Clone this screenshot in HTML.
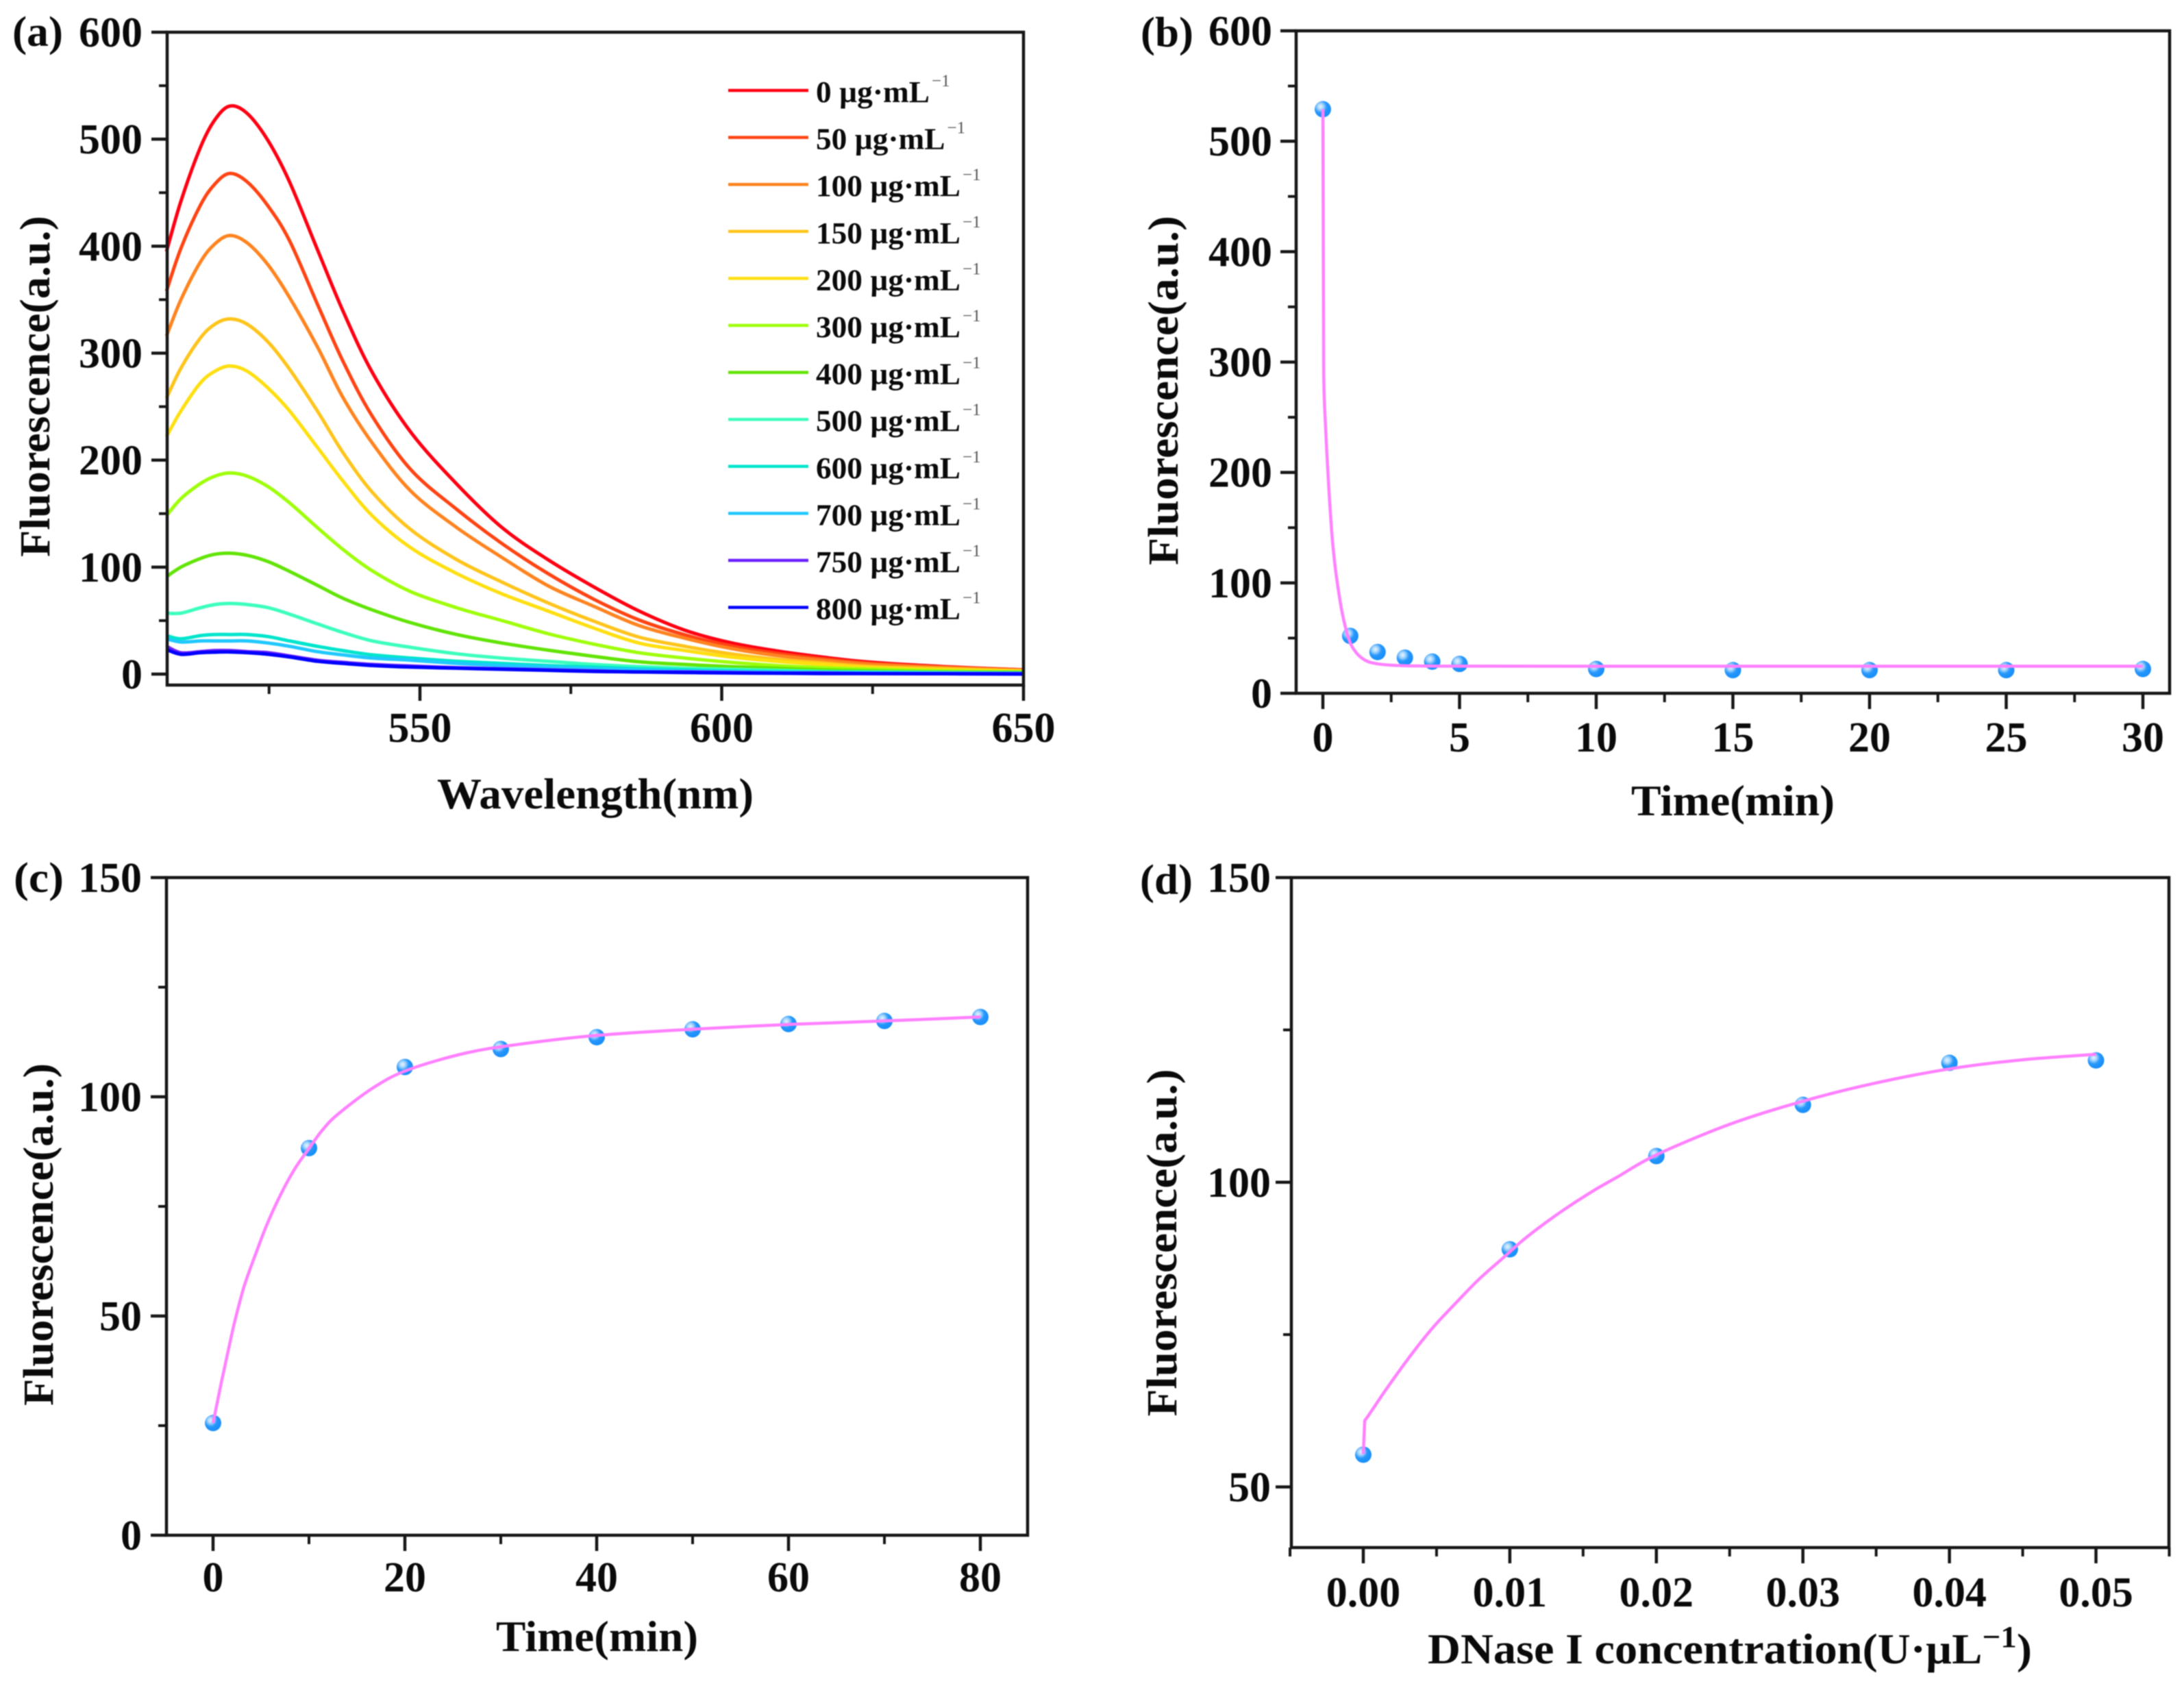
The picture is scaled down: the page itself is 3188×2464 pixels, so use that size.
<!DOCTYPE html>
<html lang="en">
<head>
<meta charset="utf-8">
<title>Fluorescence response panels</title>
<style>
html,body{margin:0;padding:0;background:#fff;width:3188px;height:2464px;overflow:hidden}
#fig{display:block;filter:blur(0.7px)}
text{font-family:"Liberation Serif","DejaVu Serif",serif;font-weight:700;fill:#0a0a0a}
</style>
</head>
<body>
<svg id="fig" xmlns="http://www.w3.org/2000/svg" width="3188" height="2464" viewBox="0 0 3188 2464">
<defs>
<radialGradient id="ball" cx="0.36" cy="0.34" r="0.62">
<stop offset="0" stop-color="#e6f4ff"/>
<stop offset="0.28" stop-color="#a8d6ff"/>
<stop offset="0.62" stop-color="#2697fb"/>
<stop offset="1" stop-color="#1a8ffb"/>
</radialGradient>
</defs>
<rect x="0" y="0" width="3188" height="2464" fill="#fff"/>

<text x="18" y="67" font-size="62" textLength="74" lengthAdjust="spacingAndGlyphs">(a)</text>
<text x="1665" y="68" font-size="62" textLength="77" lengthAdjust="spacingAndGlyphs">(b)</text>
<text x="20" y="1302" font-size="62" textLength="73" lengthAdjust="spacingAndGlyphs">(c)</text>
<text x="1664" y="1305" font-size="62" textLength="77" lengthAdjust="spacingAndGlyphs">(d)</text>

<text transform="translate(72,564) rotate(-90)" text-anchor="middle" font-size="62" textLength="498" lengthAdjust="spacingAndGlyphs">Fluorescence(a.u.)</text>
<text transform="translate(1719,570) rotate(-90)" text-anchor="middle" font-size="62" textLength="510" lengthAdjust="spacingAndGlyphs">Fluorescence(a.u.)</text>
<text transform="translate(77,1802) rotate(-90)" text-anchor="middle" font-size="62" textLength="500" lengthAdjust="spacingAndGlyphs">Fluorescence(a.u.)</text>
<text transform="translate(1717,1814) rotate(-90)" text-anchor="middle" font-size="62" textLength="507" lengthAdjust="spacingAndGlyphs">Fluorescence(a.u.)</text>

<text x="638" y="1180" font-size="64" textLength="462" lengthAdjust="spacingAndGlyphs">Wavelength(nm)</text>
<text x="2381" y="1190" font-size="64" textLength="297" lengthAdjust="spacingAndGlyphs">Time(min)</text>
<text x="724" y="2410" font-size="64" textLength="295" lengthAdjust="spacingAndGlyphs">Time(min)</text>
<text x="2084" y="2428" font-size="62" textLength="882" lengthAdjust="spacingAndGlyphs">DNase I concentration(U·µL<tspan dy="-24" font-size="44">−1</tspan><tspan dy="24">)</tspan></text>

<g id="plots"></g>
</svg>

<script>
// ---------- Panel (a) data ----------
const wavelengths = [508,510.4,513.6,516,518.5,521.4,524.9,528.4,533,537.2,542.1,548.5,556.1,563.6,571.2,578.8,586.3,593.9,601.5,609,616.6,625,637,650];
const conc0   = [395,442,492,518,531,524,498,460,397,340,282,226,177.6,137,107,81.5,59,41,29.3,21.8,16,11,7,4];
const conc50  = [358,398,438,458,468,460,437,405,346,293,241,191,154,122,94,70,50.6,36.7,26.5,19.5,14.5,10,6.5,4];
const conc100 = [316,350,385,402,410,403,382,352,306,259,216,171,137,109,82.6,63.4,45.4,33.5,24,17.5,13,9,6,3.5];
const conc150 = [258,286,314,327,332,327,310,285,246,207.5,170,135,107,86,66.6,49.5,34.6,26,19,14,10.5,7,5,3];
const conc200 = [222,246,272,283,288,283,267,246,212,180.8,148,118,94,75,59,43,29,22,16,12,9,6,4,2.5];
const conc300 = [148,164,178,185,188,185,175,160,137,116.7,96.5,77,62,50,37.8,28,20,15,11,8,6,4.5,3,2];
const conc400 = [91,100,108,112,113,111,105,96,83,71,60,48,37,29,22.4,16.6,11.5,9,7,5.5,4,3,2,1.5];
const conc500 = [57,57,62,65,66,65,62,56,47,39,31,25,19,15,12,9,7,5.5,4.5,3.5,2.5,2,1.5,1];
const conc600 = [36,33,36,37,37,37,35,31,26,22,18,15,12,10,8,6.5,5,4,3,2.5,2,1.5,1,1];
const conc700 = [33,30,31,31,31,31,29,26,21,18,15,13,10,8,6.5,5,4,3,2.5,2,1.5,1,1,0.5];
const conc750 = [26,20,21,22,22,21,20,17,13,11,9,7.5,6,5,4,3,2,2,1.5,1,1,0.5,0.5,0.5];
const conc800 = [23,18.5,20,20.5,20.7,20,18.5,16,12,10,8,6.5,5.5,4.5,3.5,2.5,2,1.5,1,0.8,0.5,0.5,0.3,0];
const concLabels = ['0','50','100','150','200','300','400','500','600','700','750','800'];
const aYTicks = [0,100,200,300,400,500,600];
const aYMinor = [50,150,250,350,450,550];
const aXTicks = [550,600,650];
const aXMinor = [525,575,625];

// ---------- Panel (b) data ----------
const bTime = [0,1,2,3,4,5,10,15,20,25,30];
const bValues = [529,52,37.4,32.3,28.7,26.6,22,21,21,21,22];
const bFitTime = [0,0.03,0.06,0.2,0.38,0.64,0.9,1.15,1.54,2.05,2.95,5,10,20,30];
const bFitValues = [529,290,261,193,130,82,53,39,30,26.5,25,24.6,24.5,24.5,24.5];
const bYTicks = [0,100,200,300,400,500,600];
const bYMinor = [50,150,250,350,450,550];
const bXTicks = [0,5,10,15,20,25,30];
const bXMinor = [2.5,7.5,12.5,17.5,22.5,27.5];

// ---------- Panel (c) data ----------
const cTime = [0,10,20,30,40,50,60,70,80];
const cValues = [25.6,88.3,106.8,110.9,113.6,115.4,116.6,117.3,118.2];
const cFitTime = [0,0.88,1.6,2.3,3.26,4.45,5.64,7.07,8.5,9.93,11.36,13,16.8,20.4,26.4,32,40,50,60,70,80];
const cFitValues = [25.6,35,42.3,49.1,56.9,64.2,71,77.8,83.5,88,92.3,96,102.2,106.2,110,112,114,115.4,116.5,117.3,118.2];
const cYTicks = [0,50,100,150];
const cYMinor = [25,75,125];
const cXTicks = [0,20,40,60,80];
const cXMinor = [10,30,50,70];

// ---------- Panel (d) data ----------
const dConc = [0,0.01,0.02,0.03,0.04,0.05];
const dValues = [55.3,89,104.3,112.7,119.6,120];
const dFitConc = [0,0.0001,0.0004,0.0017,0.0033,0.0048,0.0064,0.0079,0.0095,0.0111,0.0134,0.0157,0.0173,0.02,0.0251,0.03,0.0348,0.04,0.045,0.05];
const dFitValues = [55.4,60.9,61.9,66.5,71.8,76.3,80.4,84.1,87.5,90.9,95,98.6,100.8,104.5,109.6,113.3,116.2,118.6,120.1,121];
const dYTicks = [50,100,150];
const dYMinor = [75,125];
const dXTicks = [0,0.01,0.02,0.03,0.04,0.05];
const dXMinor = [-0.005,0.005,0.015,0.025,0.035,0.045,0.055];

const NS = 'http://www.w3.org/2000/svg';
const AXIS_COLOR = '#161616';
const root = document.getElementById('plots');

function add(parent, tag, name, attrs, txt) {
  const el = document.createElementNS(NS, tag);
  
  
  for (const k in attrs) el.setAttribute(k, attrs[k]);
  if (txt !== undefined) el.textContent = txt;
  parent.appendChild(el);
  return el;
}
function linear(d0, d1, r0, r1) {
  return v => r0 + (v - d0) * (r1 - r0) / (d1 - d0);
}
// Catmull-Rom path; the first `head` segments stay straight (for abrupt fit starts).
function smoothPath(xs, ys, sx, sy, head) {
  const h = head || 0;
  const p = xs.map((x, i) => [sx(x), sy(ys[i])]);
  let d = 'M' + p[0][0].toFixed(1) + ' ' + p[0][1].toFixed(1);
  for (let i = 0; i < h; i++) d += ' L' + p[i + 1][0].toFixed(1) + ' ' + p[i + 1][1].toFixed(1);
  for (let i = h; i < p.length - 1; i++) {
    const a = p[Math.max(i - 1, h)], b = p[i], c = p[i + 1], e = p[Math.min(i + 2, p.length - 1)];
    const c1x = b[0] + (c[0] - a[0]) / 6, c1y = b[1] + (c[1] - a[1]) / 6;
    const c2x = c[0] - (e[0] - b[0]) / 6, c2y = c[1] - (e[1] - b[1]) / 6;
    d += ' C' + c1x.toFixed(1) + ' ' + c1y.toFixed(1) + ' ' + c2x.toFixed(1) + ' ' + c2y.toFixed(1) + ' ' + c[0].toFixed(1) + ' ' + c[1].toFixed(1);
  }
  return d;
}
function drawAxes(g, o) {
  add(g, 'rect', o.id + '-frame', {x:o.left, y:o.top, width:o.right-o.left, height:o.bottom-o.top, fill:'none', stroke:AXIS_COLOR, 'stroke-width':4.5});
  o.yTicks.forEach(v => {
    const y = o.sy(v);
    add(g, 'line', o.id + '-y-tick', {x1:o.left-23, x2:o.left, y1:y, y2:y, stroke:AXIS_COLOR, 'stroke-width':4.5});
    add(g, 'text', o.id + '-y-tick-label', {x:o.yLabelX, y:y+21, 'text-anchor':'end', 'font-size':62}, String(v));
  });
  o.yMinor.forEach(v => {
    const y = o.sy(v);
    add(g, 'line', o.id + '-y-minor-tick', {x1:o.left-12, x2:o.left, y1:y, y2:y, stroke:AXIS_COLOR, 'stroke-width':4});
  });
  o.xTicks.forEach(v => {
    const x = o.sx(v);
    add(g, 'line', o.id + '-x-tick', {x1:x, x2:x, y1:o.bottom, y2:o.bottom+23, stroke:AXIS_COLOR, 'stroke-width':4.5});
    add(g, 'text', o.id + '-x-tick-label', {x:x, y:o.xLabelY, 'text-anchor':'middle', 'font-size':62}, o.fmt ? o.fmt(v) : String(v));
  });
  o.xMinor.forEach(v => {
    const x = o.sx(v);
    add(g, 'line', o.id + '-x-minor-tick', {x1:x, x2:x, y1:o.bottom, y2:o.bottom+13, stroke:AXIS_COLOR, 'stroke-width':4});
  });
}
function drawMarkers(g, id, xs, ys, sx, sy) {
  xs.forEach((x, i) => {
    add(g, 'circle', id + '-point', {cx:sx(x), cy:sy(ys[i]), r:12, fill:'url(#ball)'});
  });
}

// ---------- Panel (a) ----------
const gA = add(root, 'g', 'panel-a', {});
const axSx = linear(550, 650, 613, 1494);
const axSy = linear(0, 600, 984, 47);
const spectra = [conc0,conc50,conc100,conc150,conc200,conc300,conc400,conc500,conc600,conc700,conc750,conc800];
const spectraColors = ['#ff0012','#ff4414','#ff8420','#ffc41c','#ffdf10','#9fff0a','#62e406','#3cffbe','#00e5cc','#20c8ff','#6a20ff','#0000ff'];
spectra.forEach((vals, i) => {
  add(gA, 'path', 'spectrum-' + concLabels[i], {d:smoothPath(wavelengths, vals, axSx, axSy), fill:'none', stroke:spectraColors[i], 'stroke-width':5, 'stroke-linejoin':'round'});
});
drawAxes(gA, {id:'panel-a', left:244, right:1494, top:47, bottom:1000, sx:axSx, sy:axSy, yTicks:aYTicks, yMinor:aYMinor, xTicks:aXTicks, xMinor:aXMinor, yLabelX:208, xLabelY:1083});
concLabels.forEach((lab, i) => {
  const y = 132 + i * 68.6;
  add(gA, 'line', 'legend-line-' + lab, {x1:1063, x2:1180, y1:y, y2:y, stroke:spectraColors[i], 'stroke-width':4.5});
  const w = 166 + (lab.length - 1) * 22.5;
  add(gA, 'text', 'legend-label-' + lab, {x:1191, y:y+17, 'font-size':44, textLength:w, lengthAdjust:'spacingAndGlyphs'}, lab + ' µg·mL');
  add(gA, 'text', 'legend-exponent-' + lab, {x:1191+w+3, y:y-6, 'font-size':25, style:'font-weight:400;fill:#555'}, '−1');
});

// ---------- Panel (b) ----------
const gB = add(root, 'g', 'panel-b', {});
const bxSx = linear(0, 30, 1931, 3128);
const bxSy = linear(0, 600, 1012, 45);
drawMarkers(gB, 'panel-b', bTime, bValues, bxSx, bxSy);
add(gB, 'path', 'panel-b-fit-line', {d:smoothPath(bFitTime, bFitValues, bxSx, bxSy, 1), fill:'none', stroke:'#ff80ff', 'stroke-width':4.5, 'stroke-linejoin':'round'});
drawAxes(gB, {id:'panel-b', left:1892, right:3167, top:45, bottom:1012, sx:bxSx, sy:bxSy, yTicks:bYTicks, yMinor:bYMinor, xTicks:bXTicks, xMinor:bXMinor, yLabelX:1857, xLabelY:1097});

// ---------- Panel (c) ----------
const gC = add(root, 'g', 'panel-c', {});
const cxSx = linear(0, 80, 311, 1431);
const cxSy = linear(0, 150, 2241, 1281);
drawMarkers(gC, 'panel-c', cTime, cValues, cxSx, cxSy);
add(gC, 'path', 'panel-c-fit-line', {d:smoothPath(cFitTime, cFitValues, cxSx, cxSy), fill:'none', stroke:'#ff80ff', 'stroke-width':4.5, 'stroke-linejoin':'round'});
drawAxes(gC, {id:'panel-c', left:243, right:1500, top:1281, bottom:2241, sx:cxSx, sy:cxSy, yTicks:cYTicks, yMinor:cYMinor, xTicks:cXTicks, xMinor:cXMinor, yLabelX:207, xLabelY:2323});

// ---------- Panel (d) ----------
const gD = add(root, 'g', 'panel-d', {});
const dxSx = linear(0, 0.05, 1990, 3059.5);
const dxSy = linear(50, 150, 2170.5, 1281);
drawMarkers(gD, 'panel-d', dConc, dValues, dxSx, dxSy);
add(gD, 'path', 'panel-d-fit-line', {d:smoothPath(dFitConc, dFitValues, dxSx, dxSy, 1), fill:'none', stroke:'#ff80ff', 'stroke-width':4.5, 'stroke-linejoin':'round'});
drawAxes(gD, {id:'panel-d', left:1885, right:3166, top:1281, bottom:2259, sx:dxSx, sy:dxSy, yTicks:dYTicks, yMinor:dYMinor, xTicks:dXTicks, xMinor:dXMinor, yLabelX:1855, xLabelY:2345, fmt:v => v.toFixed(2)});
</script>
</body>
</html>
